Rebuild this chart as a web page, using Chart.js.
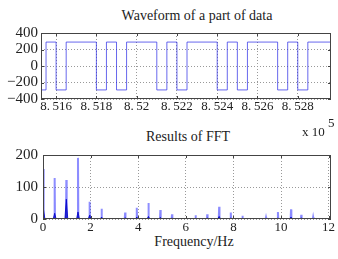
<!DOCTYPE html>
<html>
<head>
<meta charset="utf-8">
<title>Waveform and FFT</title>
<script src="https://cdn.jsdelivr.net/npm/chart.js@4.4.1/dist/chart.umd.min.js"></script>
<style>
  body { margin: 0; background: #fff; width: 338px; height: 259px; position: relative; overflow: hidden;
         font-family: "Liberation Serif", "Times New Roman", serif; color: #222; }
  canvas { position: absolute; left: 0; }
  #wave { top: 0; }
  #fft { top: 130px; }
  .lbl { position: absolute; white-space: nowrap; font-size: 14px; line-height: 16px; transform: translateX(-50%); }
  .exp { position: absolute; white-space: nowrap; font-size: 13px; line-height: 16px; }
</style>
</head>
<body>
<div class="lbl" style="left:197px; top:8px">Waveform of a part of data</div>
<div class="lbl" style="left:188px; top:129px">Results of FFT</div>
<div class="lbl" style="left:194px; top:234px">Frequency/Hz</div>
<canvas id="wave" width="338" height="135"></canvas>
<canvas id="fft" width="338" height="129"></canvas>
<div class="exp" style="left:302px; top:124px">x 10</div>
<div class="exp" style="left:328px; top:115px">5</div>
<script>
// square wave: sample index where the level changes, and the level after it
const waveX = [851525, 851550, 851600, 851650, 851800, 851850, 851900, 851950, 852100, 852150,
               852200, 852250, 852400, 852450, 852500, 852550, 852700, 852750, 852800, 852850, 852965];
const waveY = [-290, 290, -290, 290, -290, 290, -290, 290, -290, 290,
               -290, 290, -290, 290, -290, 290, -290, 290, -290, 290, 290];
const waveTicks = [851600, 851800, 852000, 852200, 852400, 852600, 852800];
const waveTickLabels = ['8.\u2009516', '8.\u2009518', '8.\u200952', '8.\u2009522', '8.\u2009524', '8.\u2009526', '8.\u2009528'];
const waveYTicks = [-400, -200, 0, 200, 400];
const waveYLabels = ['\u2212400', '\u2212200', '0', '200', '400'];

// FFT peaks: frequency, peak height, height of the darker lower part
const fftFreq = [0.02, 0.49, 0.98, 1.47, 1.96, 2.46, 3.45, 3.94, 4.43, 4.93, 5.42,
                 6.41, 6.90, 7.40, 7.89, 8.38, 9.37, 9.87, 10.42, 10.85, 11.35];
const fftAmp  = [156, 128, 122, 191, 54, 32, 20, 35, 50, 28, 15,
                 12, 15, 38, 20, 10, 5, 22, 30, 13, 6];
const fftBase = [30, 18, 62, 22, 12, 6, 4, 6, 8, 5, 3,
                 2, 3, 8, 3, 2, 1, 3, 6, 3, 1];
const fftTicks = [0, 2, 4, 6, 8, 10, 12];
const fftYTicks = [0, 100, 200];

const FONT = '"Liberation Serif", "Times New Roman", serif';

function spikes(freqs, heights, half) {
  const pts = [];
  freqs.forEach((f, i) => {
    pts.push({x: f - half, y: 0}, {x: f, y: heights[i]}, {x: f + half, y: 0});
  });
  return pts;
}

// matlab style box with inner tick marks
const boxPlugin = {
  id: 'box',
  afterDraw(chart) {
    const {ctx, chartArea: a, scales} = chart;
    ctx.save();
    ctx.strokeStyle = '#444';
    ctx.lineWidth = 1;
    ctx.strokeRect(a.left + 0.5, a.top + 0.5, a.right - a.left - 1, a.bottom - a.top - 1);
    ctx.beginPath();
    scales.x.ticks.forEach(t => {
      const px = Math.round(scales.x.getPixelForValue(t.value)) + 0.5;
      ctx.moveTo(px, a.bottom); ctx.lineTo(px, a.bottom - 3);
      ctx.moveTo(px, a.top); ctx.lineTo(px, a.top + 3);
    });
    scales.y.ticks.forEach(t => {
      const py = Math.round(scales.y.getPixelForValue(t.value)) + 0.5;
      ctx.moveTo(a.left, py); ctx.lineTo(a.left + 3, py);
      ctx.moveTo(a.right, py); ctx.lineTo(a.right - 3, py);
    });
    ctx.stroke();
    ctx.restore();
  }
};

function axis(min, max, ticks, labels, fontSize, pad, fixed, horizontal) {
  return {
    type: 'linear',
    min: min,
    max: max,
    afterBuildTicks: s => { s.ticks = ticks.map(v => ({value: v})); },
    afterFit: s => {
      if (horizontal) s.height = fixed; else s.width = fixed;
      s.paddingLeft = 0; s.paddingRight = 0; s.paddingTop = 0; s.paddingBottom = 0;
    },
    grid: { color: '#999', lineWidth: 1, drawTicks: false },
    border: { display: false, dash: [1, 2] },
    ticks: {
      autoSkip: false, maxRotation: 0, padding: pad, color: '#222',
      font: { family: FONT, size: fontSize },
      callback: (v, i) => labels[i]
    }
  };
}

new Chart(document.getElementById('wave'), {
  type: 'line',
  data: {
    datasets: [{
      data: waveX.map((x, i) => ({x: x, y: waveY[i]})),
      stepped: 'before',
      borderColor: 'rgba(40, 40, 230, 0.7)',
      borderWidth: 1,
      pointRadius: 0
    }]
  },
  options: {
    responsive: false,
    animation: false,
    devicePixelRatio: 1,
    layout: { padding: { top: 33, right: 7, left: 0, bottom: 0 } },
    plugins: { legend: { display: false }, tooltip: { enabled: false } },
    scales: {
      x: axis(851525, 852965, waveTicks, waveTickLabels, 13, 0, 36, true),
      y: axis(-400, 400, waveYTicks, waveYLabels, 15, 3, 41, false)
    }
  },
  plugins: [boxPlugin]
});

new Chart(document.getElementById('fft'), {
  type: 'line',
  data: {
    datasets: [{
      data: spikes(fftFreq, fftBase, 0.06),
      borderColor: 'rgba(0, 0, 200, 0.8)',
      backgroundColor: 'rgba(0, 0, 190, 0.7)',
      borderWidth: 1,
      fill: 'origin',
      pointRadius: 0
    }, {
      data: spikes(fftFreq, fftAmp, 0.015),
      borderColor: 'rgba(50, 50, 255, 0.55)',
      backgroundColor: 'rgba(90, 90, 255, 0.3)',
      borderWidth: 2,
      fill: 'origin',
      pointRadius: 0
    }]
  },
  options: {
    responsive: false,
    animation: false,
    devicePixelRatio: 1,
    layout: { padding: { top: 25, right: 7, left: 0, bottom: 0 } },
    plugins: { legend: { display: false }, tooltip: { enabled: false } },
    scales: {
      x: axis(0, 12.1, fftTicks, fftTicks.map(String), 13, 1, 40, true),
      y: axis(0, 200, fftYTicks, fftYTicks.map(String), 15, 5, 43, false)
    }
  },
  plugins: [boxPlugin]
});
</script>
</body>
</html>
